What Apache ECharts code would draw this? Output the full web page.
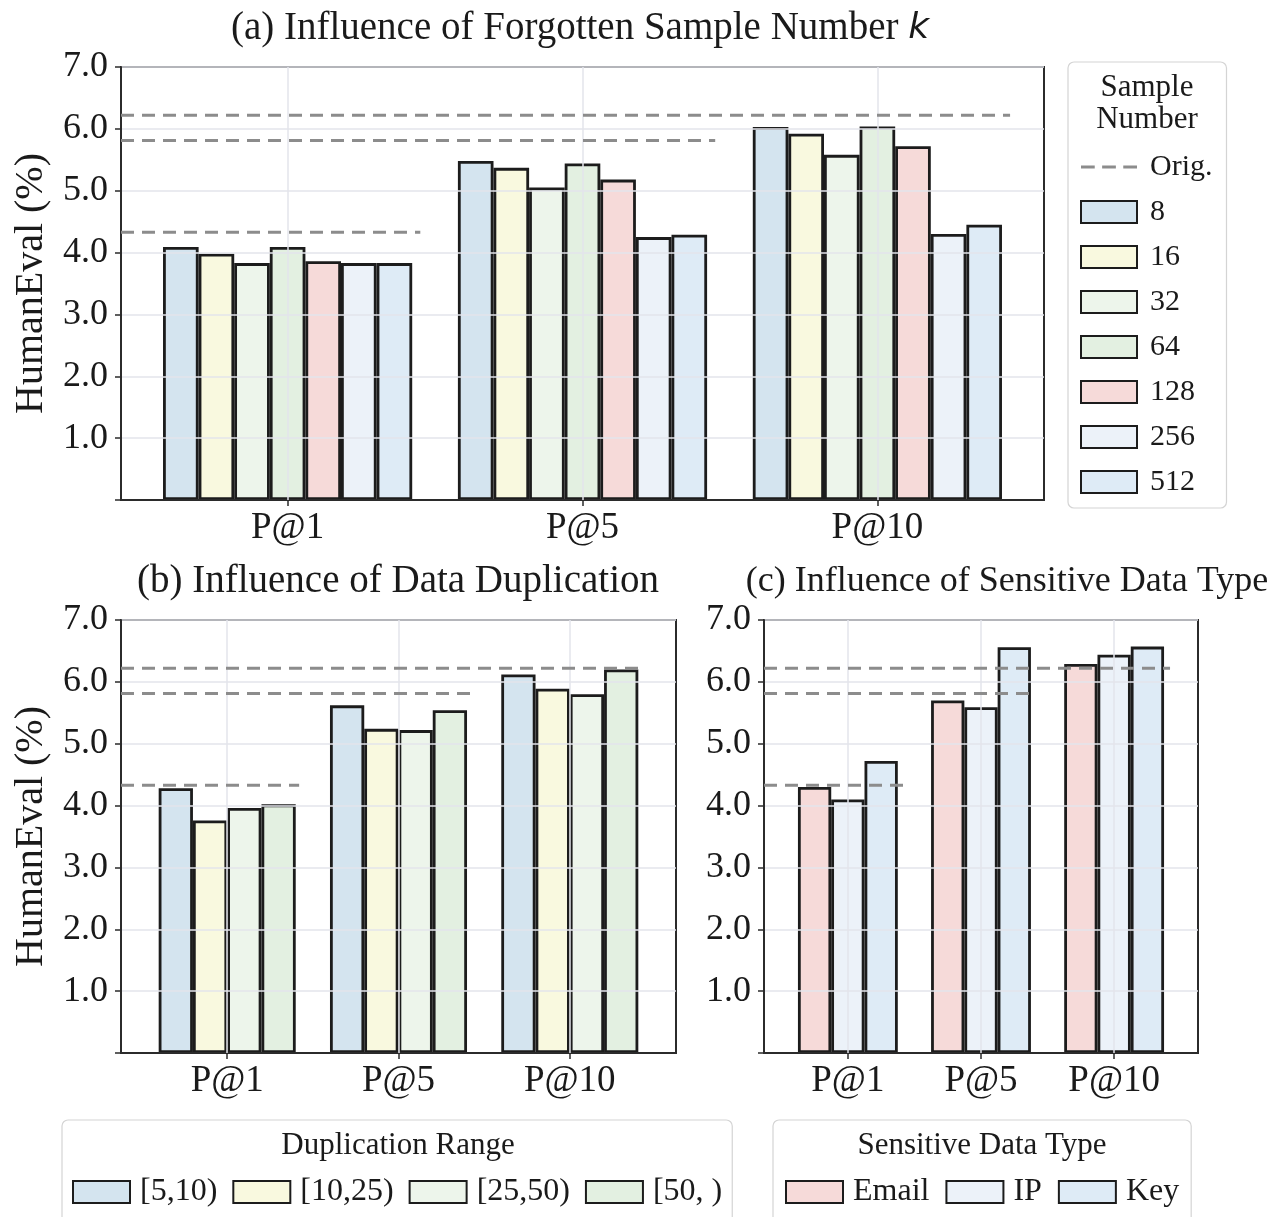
<!DOCTYPE html>
<html>
<head>
<meta charset="utf-8">
<script src="https://cdn.jsdelivr.net/npm/echarts@6/dist/echarts.min.js"></script>
<style>
html, body { margin: 0; padding: 0; background: #fff; }
#main { width: 1271px; height: 1217px; }
</style>
</head>
<body>
<div id="main"></div>
<script>
// x categories shared by the three panels
var categories = ['P@1', 'P@5', 'P@10'];
// original model (dashed "Orig." lines)
var origVals = [4.33, 5.81, 6.22];

// (a) forgotten sample number
var sampleNames = ['8', '16', '32', '64', '128', '256', '512'];
var sampleVals = [
    [4.09, 5.48, 6.03],
    [3.98, 5.37, 5.92],
    [3.83, 5.05, 5.58],
    [4.09, 5.44, 6.04],
    [3.86, 5.18, 5.72],
    [3.83, 4.25, 4.30],
    [3.83, 4.29, 4.45]
];
var sampleColors = ['#d4e4ef', '#f9f9df', '#edf5eb', '#e3f0e1', '#f6dad9', '#ecf2f9', '#deebf6'];

// (b) data duplication
var dupNames = ['[5,10)', '[10,25)', '[25,50)', '[50, )'];
var dupVals = [
    [4.28, 5.62, 6.12],
    [3.76, 5.24, 5.89],
    [3.96, 5.22, 5.80],
    [4.02, 5.54, 6.20]
];
var dupColors = ['#d4e4ef', '#f9f9df', '#edf5eb', '#e3f0e1'];

// (c) sensitive data type
var typeNames = ['Email', 'IP', 'Key'];
var typeVals = [
    [4.30, 5.70, 6.29],
    [4.10, 5.59, 6.44],
    [4.72, 6.56, 6.57]
];
var typeColors = ['#f6dad9', '#ecf2f9', '#deebf6'];

var FONT = '"Liberation Serif", "Times New Roman", serif';
var INK = '#1a1a1a';
var FRAME = '#2b2b2b';
var GRIDC = '#e3e5eb';
var DASH_ICON = 'path://M0,0h13v3h-13zM20,0h13v3h-13zM40,0h13v3h-13z';

var panels = [
    {grid: {left: 121, top: 67, width: 923, height: 433}, xMin: -0.565, xMax: 2.565, gap: '15.5%', reach: 0.45,
     names: sampleNames, vals: sampleVals, colors: sampleColors, yName: 'HumanEval (%)'},
    {grid: {left: 121, top: 620, width: 555, height: 433}, xMin: -0.62, xMax: 2.62, gap: '20%', reach: 0.42,
     names: dupNames, vals: dupVals, colors: dupColors, yName: 'HumanEval (%)'},
    {grid: {left: 764, top: 620, width: 434, height: 433}, xMin: -0.63, xMax: 2.63, gap: '25%', reach: 0.42,
     names: typeNames, vals: typeVals, colors: typeColors, yName: ''}
];

var chart = echarts.init(document.getElementById('main'), null, {renderer: 'canvas'});

var grids = [], xAxes = [], yAxes = [], series = [];
var catIdx = categories.map(function (c, i) { return i; });

panels.forEach(function (p, k) {
    grids.push({
        left: p.grid.left, top: p.grid.top, width: p.grid.width, height: p.grid.height,
        show: true, borderColor: FRAME, borderWidth: 2, backgroundColor: 'transparent'
    });
    xAxes.push({
        type: 'value', gridIndex: k, min: p.xMin, max: p.xMax, z: 3,
        axisLine: {show: true, onZero: false, lineStyle: {color: FRAME, width: 2}},
        axisTick: {show: true, customValues: catIdx, length: 6, lineStyle: {color: FRAME, width: 1.5}},
        axisLabel: {
            customValues: catIdx, margin: 10,
            formatter: function (v) { return categories[Math.round(v)]; },
            fontFamily: FONT, fontSize: 37, color: INK
        },
        splitLine: {show: false}
    });
    yAxes.push({
        type: 'value', gridIndex: k, min: 0, max: 7, interval: 1, z: 3,
        axisLine: {show: true, onZero: false, lineStyle: {color: FRAME, width: 2}},
        axisTick: {show: true, length: 6, lineStyle: {color: FRAME, width: 1.5}},
        axisLabel: {
            margin: 13, fontFamily: FONT, fontSize: 36, color: INK,
            formatter: function (v) { return v === 0 ? '' : v.toFixed(1); }
        },
        splitLine: {show: true, lineStyle: {color: GRIDC, width: 1.5}},
        name: p.yName, nameLocation: 'middle', nameGap: 70,
        nameTextStyle: {fontFamily: FONT, fontSize: 40, color: INK}
    });

    p.names.forEach(function (n, s) {
        series.push({
            type: 'bar', name: n, xAxisIndex: k, yAxisIndex: k,
            data: p.vals[s].map(function (v, j) { return [j, v]; }),
            barGap: '0%', barCategoryGap: p.gap,
            itemStyle: {color: p.colors[s], borderColor: '#1c1c1c', borderWidth: 2.8},
            z: 2, silent: true
        });
    });

    origVals.forEach(function (v, i) {
        var s = {
            type: 'line', name: 'Orig.', xAxisIndex: k, yAxisIndex: k,
            data: [[p.xMin, v], [i + p.reach, v]],
            symbol: 'none', color: '#8c8c8c',
            lineStyle: {color: '#8c8c8c', width: 3, type: [13, 8]},
            z: 5, silent: true
        };
        if (i === 0) {
            // vertical grid lines at the category centres
            s.markLine = {
                silent: true, symbol: 'none', label: {show: false},
                lineStyle: {color: GRIDC, width: 1.5, type: 'solid'},
                data: catIdx.map(function (c) { return {xAxis: c}; })
            };
        }
        series.push(s);
    });
});

option = {
    backgroundColor: '#fff',
    animation: false,
    title: [
        {text: '(a) Influence of Forgotten Sample Number {k|k}', left: 580, top: 9, textAlign: 'center', padding: 0,
         textStyle: {fontFamily: FONT, fontSize: 39, fontWeight: 'normal', color: INK,
                     rich: {k: {fontFamily: 'DejaVu Sans', fontStyle: 'italic', fontSize: 36, color: INK}}}},
        {text: '(b) Influence of Data Duplication', left: 398, top: 562, textAlign: 'center', padding: 0,
         textStyle: {fontFamily: FONT, fontSize: 39, fontWeight: 'normal', color: INK}},
        {text: '(c) Influence of Sensitive Data Type', left: 1007, top: 564, textAlign: 'center', padding: 0,
         textStyle: {fontFamily: FONT, fontSize: 36, fontWeight: 'normal', color: INK}},
        {text: 'Sample\nNumber', left: 1147, top: 72, textAlign: 'center', padding: 0,
         textStyle: {fontFamily: FONT, fontSize: 31, fontWeight: 'normal', color: INK, lineHeight: 32}},
        {text: 'Duplication Range', left: 398, top: 1130, textAlign: 'center', padding: 0,
         textStyle: {fontFamily: FONT, fontSize: 31, fontWeight: 'normal', color: INK}},
        {text: 'Sensitive Data Type', left: 982, top: 1130, textAlign: 'center', padding: 0,
         textStyle: {fontFamily: FONT, fontSize: 31, fontWeight: 'normal', color: INK}}
    ],
    legend: [
        {
            orient: 'vertical', left: 1068, top: 62, padding: [90, 14, 11, 12],
            itemWidth: 56, itemHeight: 22, itemGap: 15, selectedMode: false,
            backgroundColor: '#fff', borderColor: '#d4d4d4', borderWidth: 1.2, borderRadius: 6,
            textStyle: {fontFamily: FONT, fontSize: 30, color: INK, lineHeight: 28, padding: [0, 0, 0, 8]},
            data: [{name: 'Orig.', icon: DASH_ICON, itemStyle: {color: '#8c8c8c', borderWidth: 0}}].concat(
                sampleNames.map(function (n) { return {name: n, icon: 'rect'}; }))
        },
        {
            orient: 'horizontal', left: 62, top: 1120, padding: [56, 10, 40, 10],
            itemWidth: 57, itemHeight: 22, itemGap: 15, selectedMode: false,
            backgroundColor: '#fff', borderColor: '#d4d4d4', borderWidth: 1.2, borderRadius: 6,
            textStyle: {fontFamily: FONT, fontSize: 32, color: INK, lineHeight: 28, padding: [0, 0, 0, 5]},
            data: dupNames.map(function (n) { return {name: n, icon: 'rect'}; })
        },
        {
            orient: 'horizontal', left: 773, top: 1120, padding: [56, 12, 40, 12],
            itemWidth: 57, itemHeight: 22, itemGap: 16, selectedMode: false,
            backgroundColor: '#fff', borderColor: '#d4d4d4', borderWidth: 1.2, borderRadius: 6,
            textStyle: {fontFamily: FONT, fontSize: 32, color: INK, lineHeight: 28, padding: [0, 0, 0, 5]},
            data: typeNames.map(function (n) { return {name: n, icon: 'rect'}; })
        }
    ],
    grid: grids,
    xAxis: xAxes,
    yAxis: yAxes,
    series: series
};

chart.setOption(option);
</script>
</body>
</html>
